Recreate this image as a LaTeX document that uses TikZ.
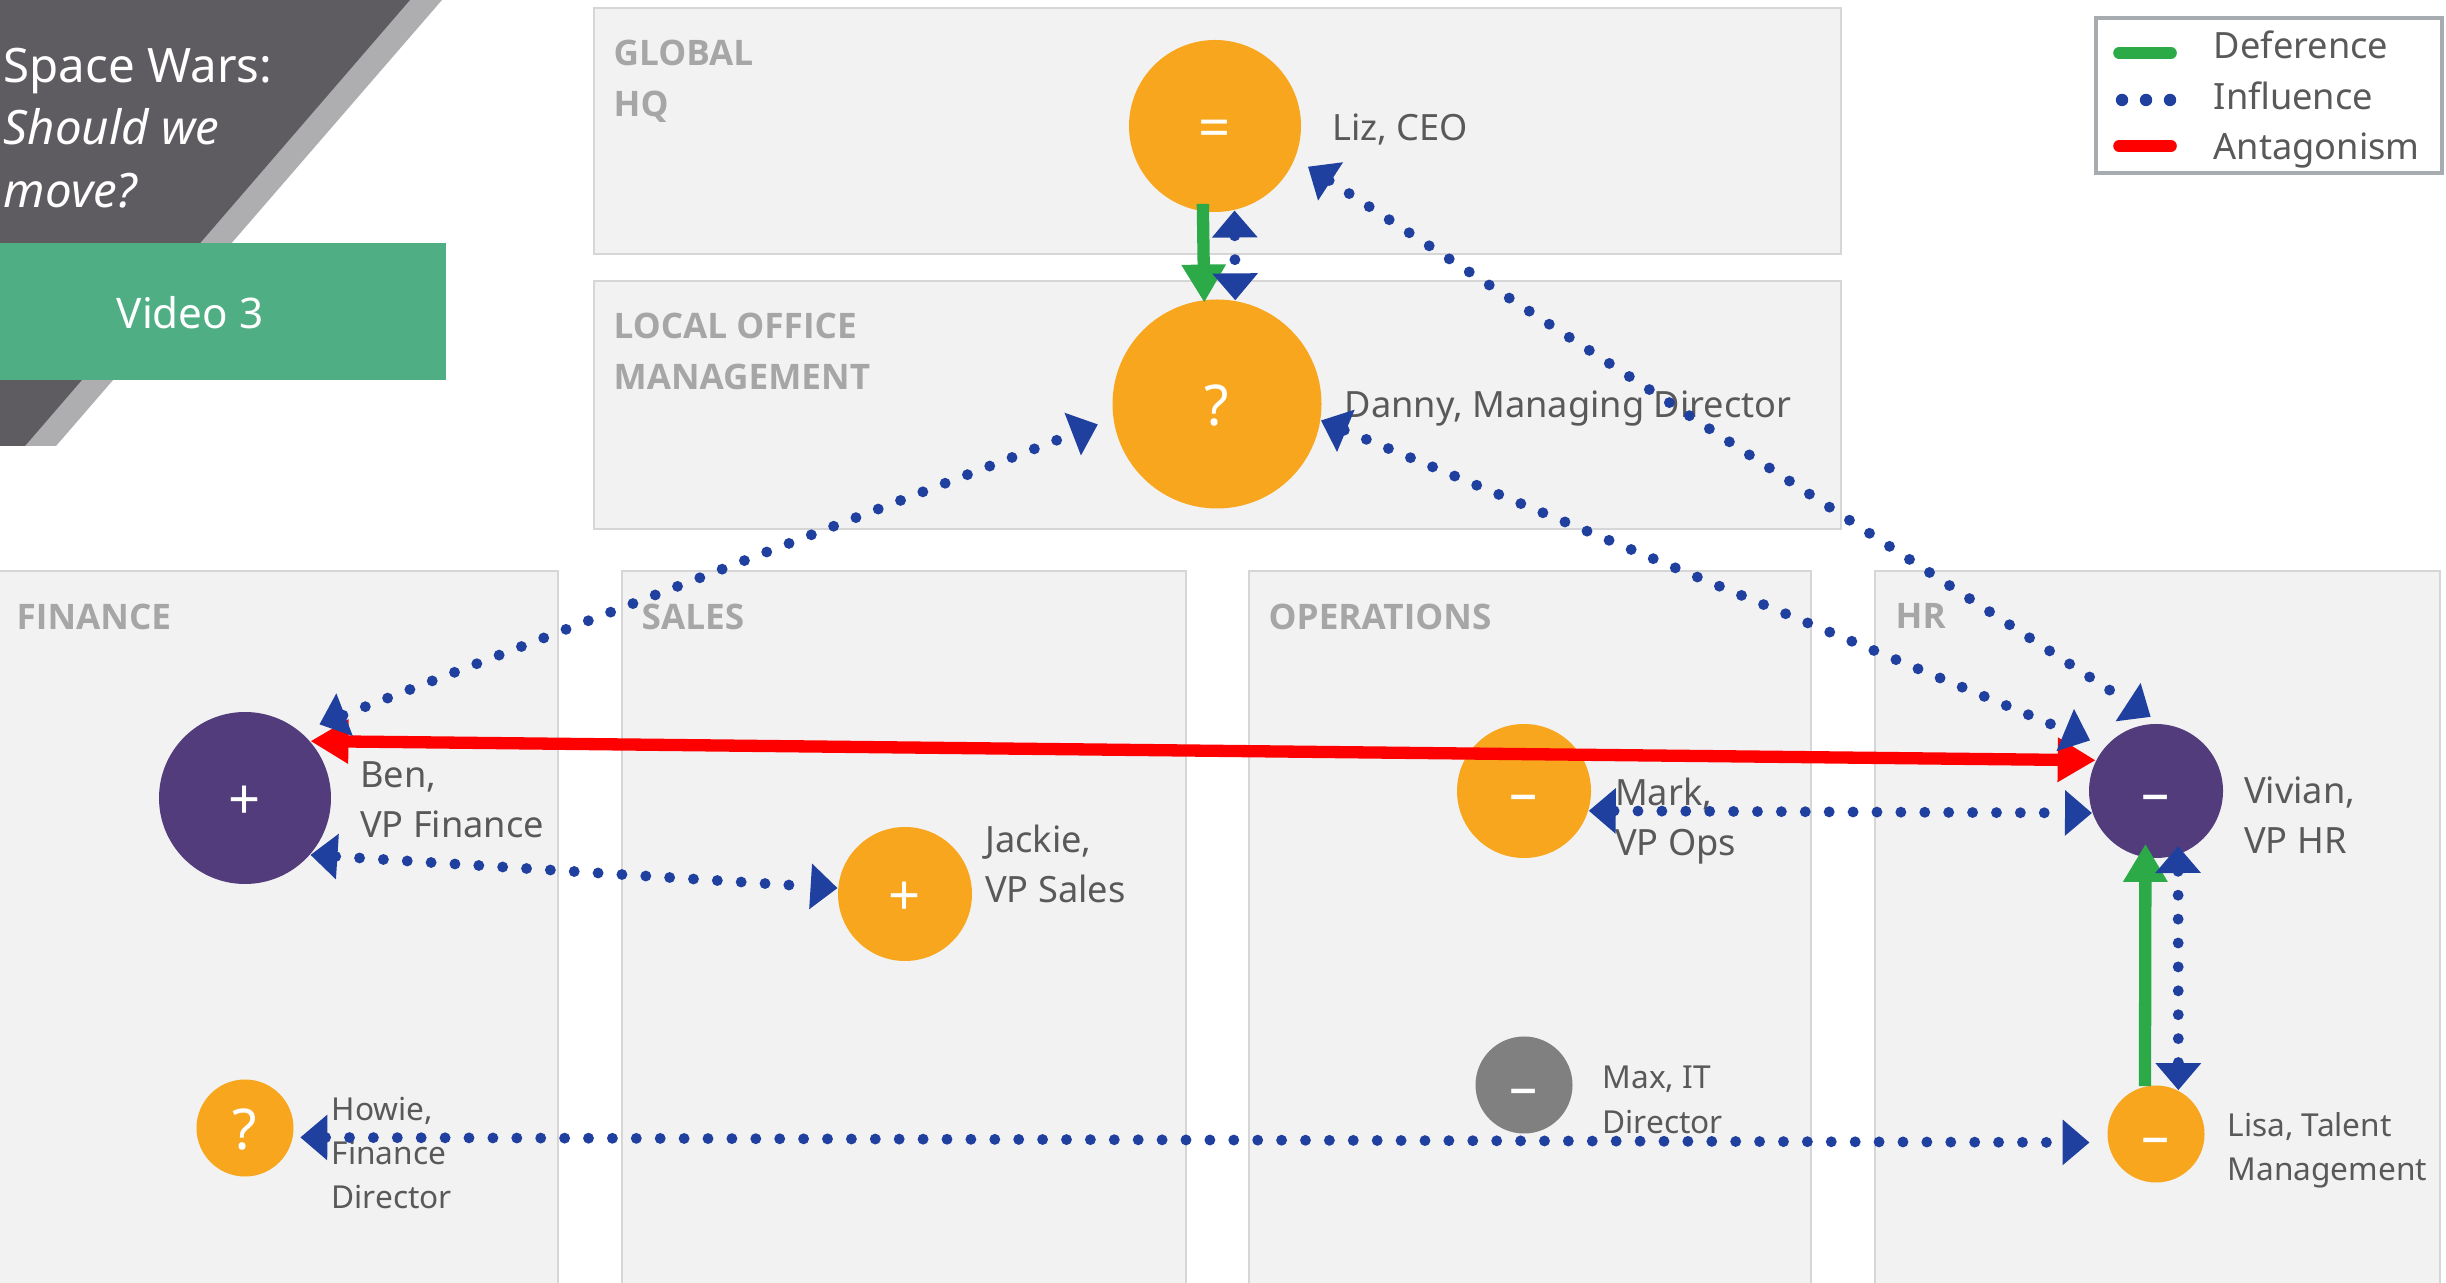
\documentclass[tikz,border=0pt]{standalone}
\usepackage{fontspec}
\setmainfont{Noto Sans}
\newfontfamily\hdrfont{Open Sans}
\usetikzlibrary{arrows.meta,positioning}
\definecolor{panelgray}{RGB}{242,242,242}
\definecolor{panelline}{RGB}{214,214,214}
\definecolor{hdrgray}{RGB}{166,166,166}
\definecolor{lblgray}{RGB}{89,89,89}
\definecolor{slate}{RGB}{94,92,96}
\definecolor{stripe}{RGB}{174,174,176}
\definecolor{videogreen}{RGB}{79,174,132}
\definecolor{persorange}{RGB}{247,166,29}
\definecolor{perspurple}{RGB}{82,60,124}
\definecolor{persgray}{RGB}{128,128,128}
\definecolor{inflblue}{RGB}{32,64,160}
\definecolor{defgreen}{RGB}{43,170,71}
\definecolor{antred}{RGB}{255,0,0}
\definecolor{legline}{RGB}{166,172,175}
\tikzset{
  panel/.style={fill=panelgray, draw=panelline, line width=0.5pt},
  hdr/.style={anchor=north west, inner sep=0pt, align=left, text=hdrgray, font=\hdrfont\bfseries\fontsize{10}{14.6}\selectfont},
  who/.style={circle, inner sep=0pt, text=white, text height=1.25em, text depth=0pt, font=\fontsize{16}{16}\selectfont},
  lbl/.style={align=left, text=lblgray, font=\fontsize{10.3}{14.2}\selectfont},
  smalllbl/.style={lbl, font=\fontsize{9}{12.6}\selectfont},
  leg/.style={anchor=base west, inner sep=0pt, text=lblgray, font=\fontsize{10.3}{12}\selectfont},
  defer/.style={draw=defgreen, line width=3.5pt, -{Triangle[length=0.38cm,width=0.42cm]}},
  antag/.style={draw=antred, line width=3.5pt, {Triangle[length=0.38cm,width=0.42cm]}-{Triangle[length=0.38cm,width=0.42cm]}},
  infl/.style={draw=inflblue, line width=3.1pt, line cap=round, dash pattern=on 0pt off 6.8pt, {Triangle[length=0.27cm,width=0.44cm]}-{Triangle[length=0.27cm,width=0.44cm]}}
}
\begin{document}
\begin{tikzpicture}
\useasboundingbox (0,0) rectangle (24.46,12.82);
\fill[white] (0,0) rectangle (24.46,12.82);
% department panels
\draw[panel] (5.94,10.28) rectangle (18.41,12.74);
\draw[panel] (5.94,7.53) rectangle (18.41,10.01);
\draw[panel] (-0.05,-0.05) rectangle (5.58,7.11);
\draw[panel] (6.22,-0.05) rectangle (11.86,7.11);
\draw[panel] (12.49,-0.05) rectangle (18.11,7.11);
\draw[panel] (18.75,-0.05) rectangle (24.40,7.11);
\node[hdr] (hqhdr) at (6.13,12.43) {GLOBAL\\HQ};
\node[hdr] (lomhdr) at (6.13,9.70) {LOCAL OFFICE\\MANAGEMENT};
\node[hdr] (finhdr) at (0.16,6.79) {FINANCE};
\node[hdr] (saleshdr) at (6.41,6.79) {SALES};
\node[hdr] (opshdr) at (12.68,6.79) {OPERATIONS};
\node[hdr] (hrhdr) at (18.95,6.79) {HR};

% title corner
\fill[stripe] (0,12.82) -- (4.42,12.82) -- (0.56,8.36) -- (0,8.36) -- cycle;
\fill[slate] (0,12.82) -- (4.10,12.82) -- (0.25,8.36) -- (0,8.36) -- cycle;
\fill[videogreen] (0,9.02) rectangle (4.46,10.39);
\node[anchor=north west, inner sep=0pt, align=left, text=white, font=\fontsize{13.5}{17.9}\selectfont] (title) at (0.03,12.35) {Space Wars:\\\textit{Should we}\\\textit{move?}};
\node[text=white, font=\fontsize{12}{14}\selectfont] (video) at (1.90,9.69) {Video 3};

% people
\node[who, fill=persorange, minimum size=1.72cm] (liz) at (12.15,11.56) {=};
\node[who, fill=persorange, minimum size=2.09cm] (danny) at (12.17,8.78) {?};
\node[who, fill=perspurple, minimum size=1.72cm] (ben) at (2.45,4.84) {+};
\node[who, fill=persorange, minimum size=1.34cm] (jackie) at (9.05,3.88) {+};
\node[who, fill=persorange, minimum size=1.34cm] (mark) at (15.24,4.91) {--};
\node[who, fill=perspurple, minimum size=1.34cm] (vivian) at (21.56,4.91) {--};
\node[who, fill=persorange, minimum size=0.97cm] (howie) at (2.45,1.54) {?};
\node[who, fill=persgray, minimum size=0.97cm] (max) at (15.24,1.97) {--};
\node[who, fill=persorange, minimum size=0.97cm] (lisa) at (21.56,1.48) {--};

\node[lbl, right=0.18cm of liz, yshift=-0.04cm] (lizlbl) {Liz, CEO};
\node[lbl, right=0.10cm of danny, yshift=-0.05cm] (dannylbl) {Danny, Managing Director};
\node[lbl, right=0.16cm of ben, yshift=-0.02cm] (benlbl) {Ben,\\VP Finance};
\node[lbl, right=0cm of jackie, yshift=0.30cm] (jackielbl) {Jackie,\\VP Sales};
\node[lbl, right=0.11cm of mark, yshift=-0.30cm] (marklbl) {Mark,\\VP Ops};
\node[lbl, right=0.08cm of vivian, yshift=-0.24cm] (vivianlbl) {Vivian,\\VP HR};
\node[smalllbl, right=0.25cm of howie, yshift=-0.25cm] (howielbl) {Howie,\\Finance\\Director};
\node[smalllbl, right=0.17cm of max, yshift=-0.15cm] (maxlbl) {Max, IT\\Director};
\node[smalllbl, right=0.10cm of lisa, yshift=-0.16cm] (lisalbl) {Lisa, Talent\\Management};

% relations
\draw[antag] (ben.41) -- (vivian.153);
\draw[defer, shorten <=-0.08cm, shorten >=-0.03cm] (liz.-98) -- (danny.97);
\draw[defer, shorten >=-0.14cm] (lisa.103) -- (vivian.-99);
\draw[infl] (liz.-77) -- (danny.80);
\draw[infl, shorten <=0.2cm, shorten >=0.16cm] (ben.50) -- (danny.188);
\draw[infl, shorten >=0.16cm] (danny.-9) -- (vivian.139);
\draw[infl, shorten <=0.15cm, shorten >=0.12cm] (liz.-22) -- (vivian.86);
\draw[infl] (ben.-41) -- (jackie.175);
\draw[infl] (mark.-17) -- (vivian.-161);
\draw[infl, shorten <=-0.09cm] (vivian.-71) -- (lisa.63);
\draw[infl, shorten <=0.07cm, shorten >=0.18cm] (howie.-11) -- (lisa.190);

% legend
\draw[fill=white, draw=legline, line width=0.9pt] (20.96,11.09) rectangle (24.42,12.64);
\draw[defgreen, line width=3.3pt, line cap=round] (21.19,12.29) -- (21.71,12.29);
\foreach \x in {21.22,21.46,21.70}
  \fill[inflblue] (\x,11.82) circle (0.062);
\draw[antred, line width=3.3pt, line cap=round] (21.19,11.36) -- (21.71,11.36);
\node[leg] (legdef) at (22.13,12.23) {Deference};
\node[leg] (leginf) at (22.13,11.72) {Influence};
\node[leg] (legant) at (22.13,11.22) {Antagonism};
\end{tikzpicture}
\end{document}
